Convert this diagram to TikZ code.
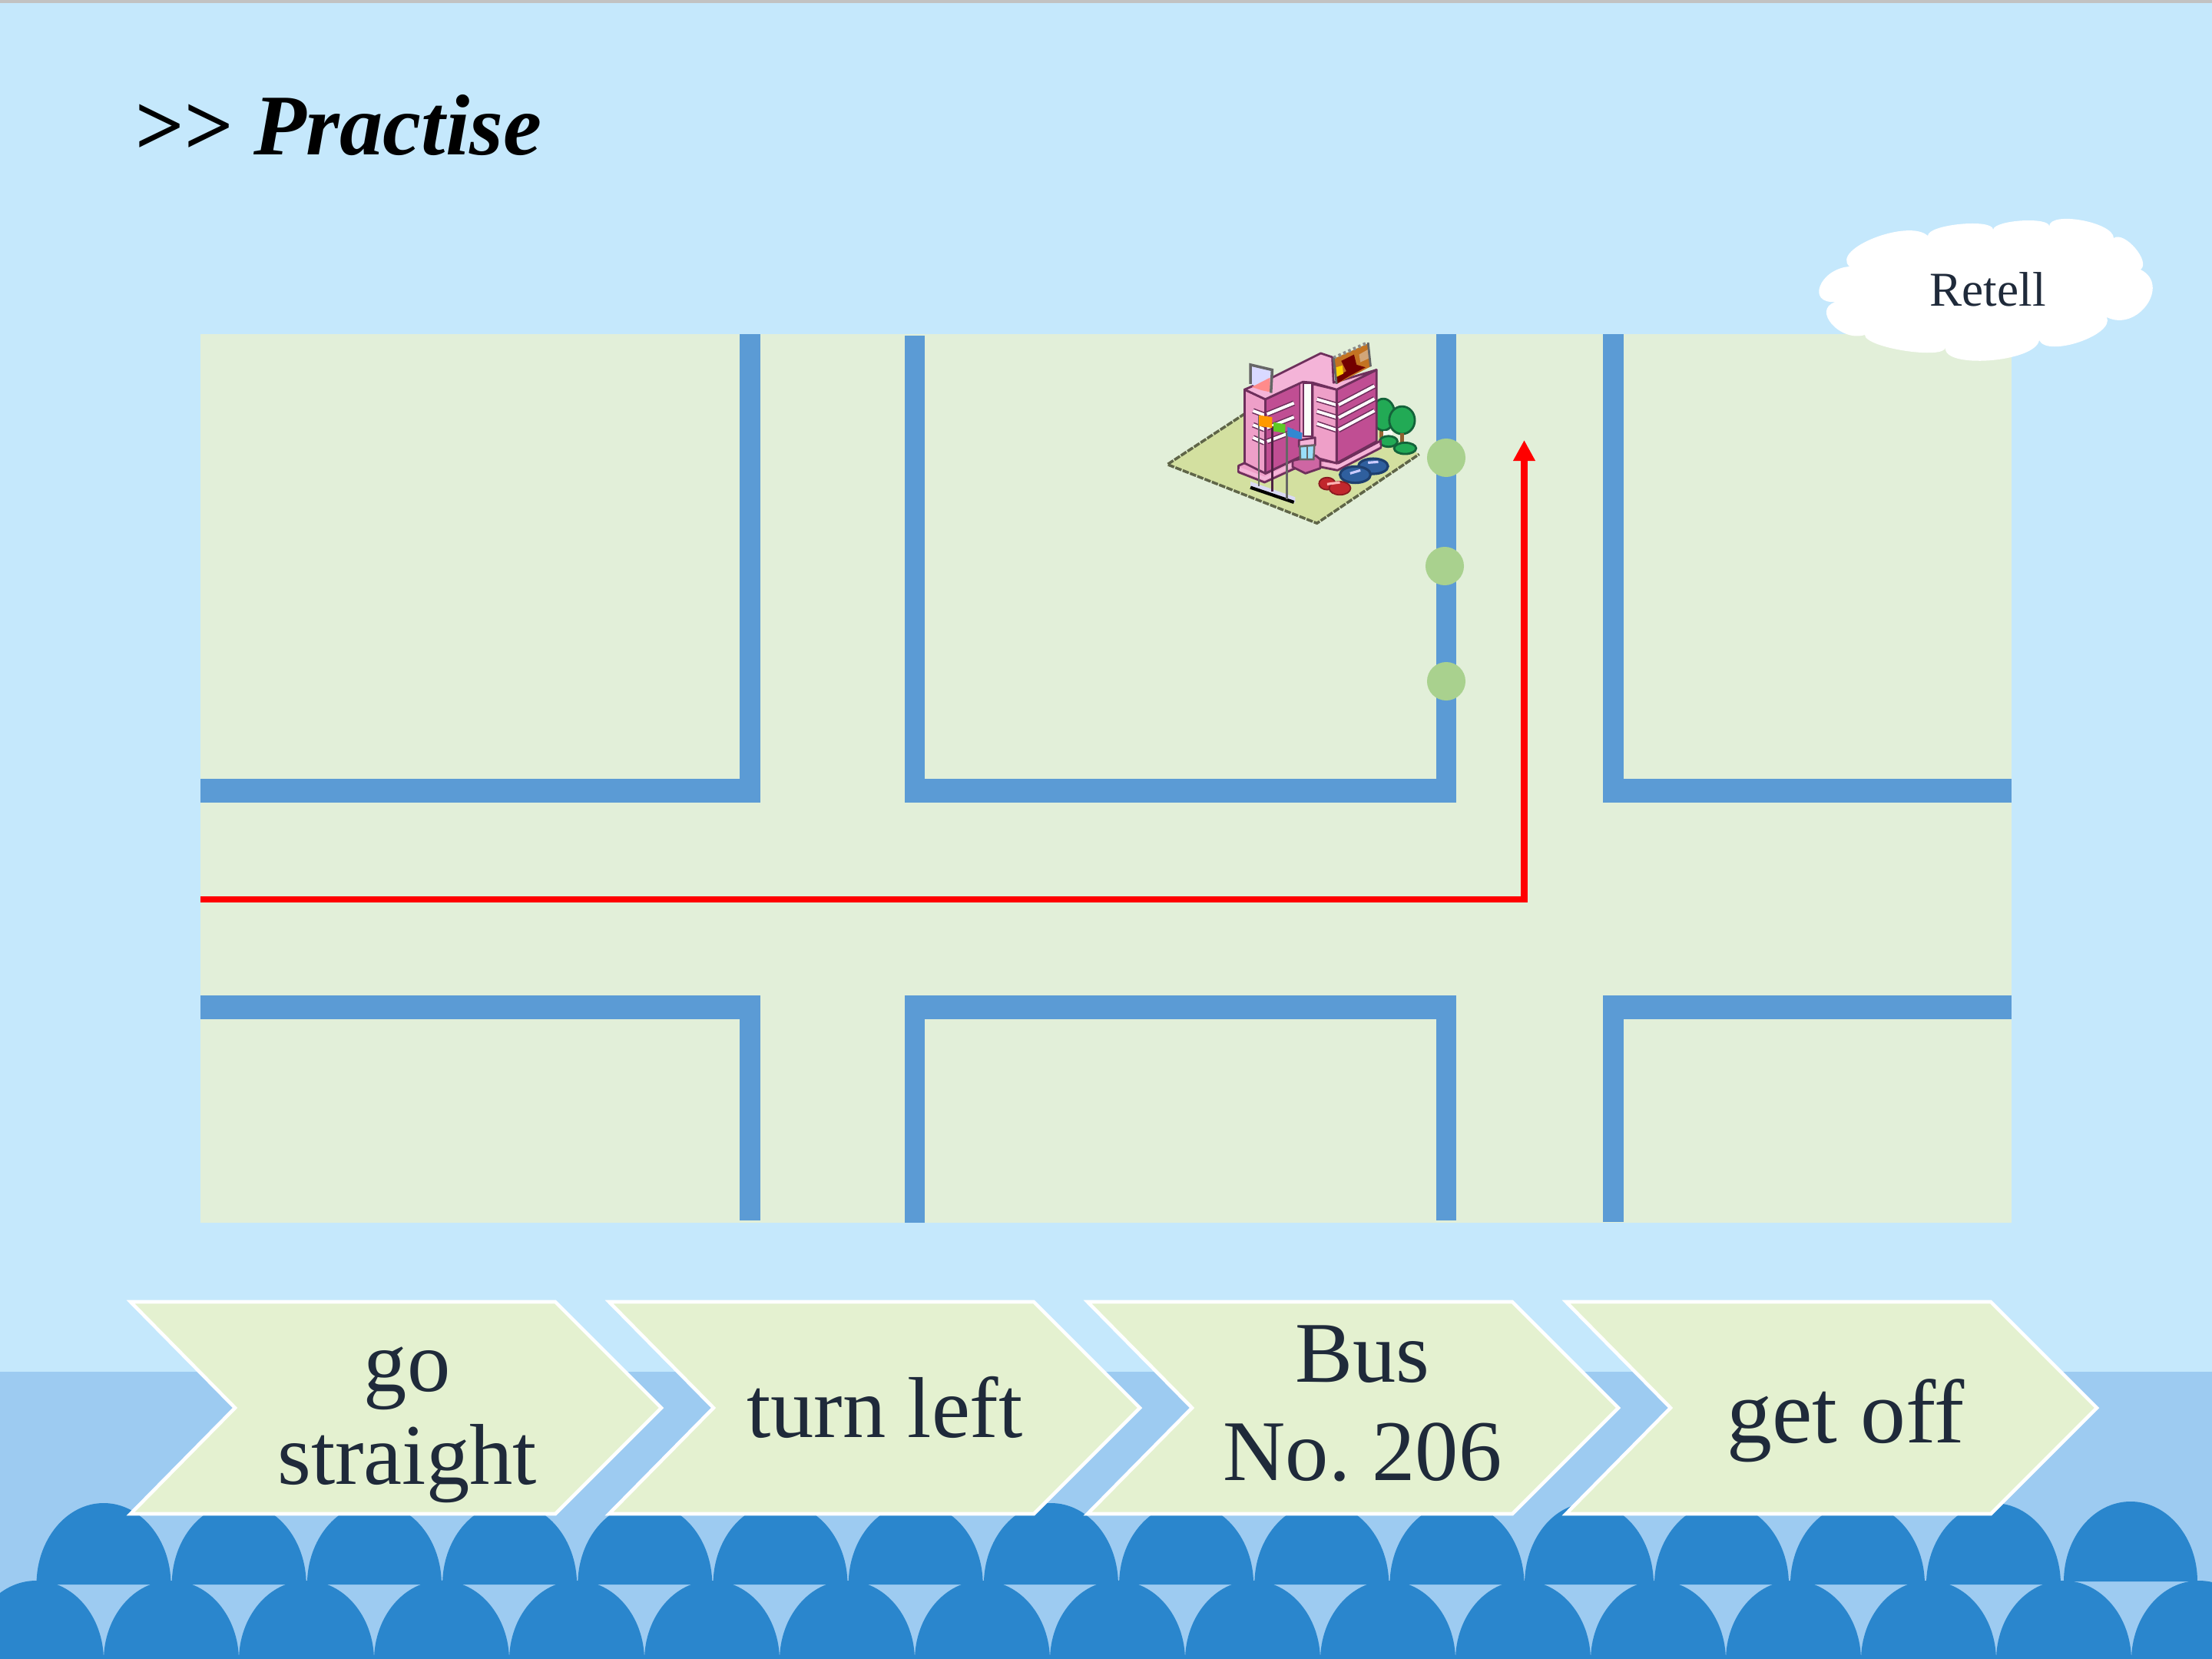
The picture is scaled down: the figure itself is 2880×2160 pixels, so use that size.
\documentclass[tikz,border=0pt]{standalone}
\usepackage{fontspec}
\setmainfont{Liberation Serif}
\usetikzlibrary{arrows.meta,calc}
\definecolor{sky}{HTML}{C5E8FC}
\definecolor{sea}{HTML}{9DCBF1}
\definecolor{wave}{HTML}{2A86CD}
\definecolor{land}{HTML}{E2EFD9}
\definecolor{wall}{HTML}{5B9BD5}
\definecolor{stop}{HTML}{A9D18E}
\definecolor{chev}{HTML}{E4F1D0}
\definecolor{ink}{HTML}{1F2A3A}
\definecolor{lawn}{HTML}{D3E0A0}
\definecolor{pinklight}{HTML}{EE9FC8}
\definecolor{pinkdark}{HTML}{C04E93}
\definecolor{pinkroof}{HTML}{F4B4D8}
\definecolor{edgepurple}{HTML}{6E2F5C}
\definecolor{treegreen}{HTML}{22AA55}
\definecolor{treeedge}{HTML}{14633A}
\definecolor{carbody}{HTML}{2F5F9E}
\definecolor{caredge}{HTML}{1E3F6E}
\definecolor{redbody}{HTML}{C1272D}
\definecolor{rededge}{HTML}{8A1A1F}
\tikzset{
  wallfill/.style={fill=wall,draw=none},
  stopdot/.style={circle,fill=stop,draw=none,minimum size=0.5cm,inner sep=0pt},
  chevron/.style={fill=chev,draw=white,line width=1.3pt,miter limit=10},
  biglabel/.style={text=ink,inner sep=0pt,align=center},
  route/.style={draw=red,line width=2.5pt,-{Triangle[length=0.27cm,width=0.27cm]}},
  stripe/.style={line width=2pt,draw=edgepurple},
  stripein/.style={line width=1.1pt,draw=white},
  bldedge/.style={draw=edgepurple,line width=0.8pt,line join=round},
  plantedge/.style={draw=treeedge,line width=0.8pt,fill=treegreen},
  carblue/.style={fill=carbody,draw=caredge,line width=0.9pt},
  carred/.style={fill=redbody,draw=rededge,line width=0.5pt},
}
\newcommand{\archfill}[4]{% centre, half width, base, height
  \fill[wave] ({#1-#2},#3) .. controls ({#1-#2},{#3-0.5523*#4}) and ({#1-0.5523*#2},{#3-#4}) .. ({#1},{#3-#4})
    .. controls ({#1+0.5523*#2},{#3-#4}) and ({#1+#2},{#3-0.5523*#4}) .. ({#1+#2},#3) -- cycle;}
\newcommand{\stripeline}[4]{%
  \draw[stripe] (#1,#2) -- (#3,#4);
  \draw[stripein] (#1,#2) -- (#3,#4);}
\begin{document}
\begin{tikzpicture}[x=0.01cm,y=-0.01cm]
\useasboundingbox (0,0) rectangle (2880,2160);
% backdrop
\fill[sky] (0,0) rectangle (2880,2160);
\fill[sea] (0,1786) rectangle (2880,2160);
\fill[black!24] (0,0) rectangle (2880,4);
% two rows of waves
\foreach \c in {47,223,399,575,751,927,1103,1279,1455,1631,1807,1983,2159,2335,2511,2687,2863}
  {\archfill{\c}{88}{2162}{104}}
\foreach \c in {135,311.2,487.4,663.6,839.8,1016,1192.2,1368.4,1544.6,1720.8,1897}
  {\archfill{\c}{87.5}{2063}{106}}
\archfill{2069}{84}{2063}{106}
\foreach \c in {2241.5,2418.5,2595.5}
  {\archfill{\c}{87.5}{2063}{106}}
\archfill{2774}{87}{2059}{104}
% street map
\fill[land] (261,435) rectangle (2619,1592);
\fill[wallfill] (261,1014) rectangle (963,1045);
\fill[wallfill] (963,435) rectangle (990,1045);
\fill[wallfill] (1178,437) rectangle (1204,1045);
\fill[wallfill] (1204,1014) rectangle (1896,1045);
\fill[wallfill] (1870,435) rectangle (1896,1045);
\fill[wallfill] (2087,435) rectangle (2114,1045);
\fill[wallfill] (2087,1014) rectangle (2619,1045);
\fill[wallfill] (261,1296) rectangle (990,1327);
\fill[wallfill] (963,1296) rectangle (990,1589);
\fill[wallfill] (1178,1296) rectangle (1204,1592);
\fill[wallfill] (1178,1296) rectangle (1896,1327);
\fill[wallfill] (1870,1296) rectangle (1896,1589);
\fill[wallfill] (2087,1296) rectangle (2114,1591);
\fill[wallfill] (2087,1296) rectangle (2619,1327);
% bus stops
\node[stopdot] (stopa) at (1883,596) {};
\node[stopdot] (stopb) at (1881,737) {};
\node[stopdot] (stopc) at (1883,887) {};
% route
\coordinate (routestart) at (261,1171);
\coordinate (routebend) at (1984.5,1171);
\coordinate (routeend) at (1984.5,573);
\draw[route] (routestart) -- (routebend) -- (routeend);
% shopping centre on its plot
\begin{scope}[shift={(1480,420)},x=0.003333cm,y=-0.003333cm]
  \fill[lawn] (120,555) -- (425,355) -- (640,210) -- (1105,515) -- (705,785) -- cycle;
  \draw[black!55!lawn,line width=1pt,dash pattern=on 2.4pt off 0.5pt] (425,355) -- (120,555) -- (705,785) -- (1105,515);
  % trees
  \fill[brown!80!black] (950,405) rectangle (970,450);
  \filldraw[plantedge] (965,360) circle[x radius=45,y radius=62];
  \filldraw[plantedge] (1038,382) circle[x radius=50,y radius=54];
  \fill[white!70!land] (965,425) rectangle (1000,445);
  \fill[brown!75!black] (1030,432) rectangle (1046,470);
  \filldraw[plantedge] (985,465) circle[x radius=35,y radius=21];
  \filldraw[plantedge] (1050,492) circle[x radius=43,y radius=22];
  % plinth
  \filldraw[fill=pinklight,bldedge] (398,560) -- (425,548) -- (505,590) -- (640,525) -- (790,550) -- (955,462) -- (955,490) -- (785,578) -- (720,565) -- (620,570) -- (500,625) -- (398,585) -- cycle;
  \draw[pinkroof,line width=1.2pt] (402,572) -- (500,610) -- (620,552);
  \draw[pinkroof,line width=1.2pt] (730,552) -- (785,565) -- (950,478);
  % walls
  \filldraw[fill=pinklight,bldedge] (422,262) -- (503,300) -- (503,590) -- (422,550) -- cycle;
  \filldraw[fill=pinkdark,bldedge] (503,300) -- (640,235) -- (640,525) -- (503,590) -- cycle;
  \filldraw[fill=white!85!land,bldedge] (650,235) -- (685,235) -- (685,445) -- (650,445) -- cycle;
  \filldraw[fill=pinklight,bldedge] (688,240) -- (782,262) -- (782,550) -- (688,525) -- cycle;
  \filldraw[fill=pinkdark,bldedge] (782,262) -- (938,185) -- (938,465) -- (782,550) -- cycle;
  \fill[pinklight] (640,235) rectangle (650,525);
  \fill[pinklight] (650,448) rectangle (688,530);
  % roof
  \filldraw[fill=pinkroof,bldedge] (422,262) -- (530,215) -- (720,120) -- (765,135) -- (770,235) -- (938,185) -- (782,262) -- (688,235) -- (650,232) -- (503,300) -- cycle;
  % billboard
  \fill[brown!60!orange!90!black] (770,142) -- (905,82) -- (915,172) -- (782,240) -- cycle;
  \fill[red!45!black] (800,150) -- (850,125) -- (860,165) -- (895,175) -- (830,210) -- (782,240) -- (780,215) -- (820,190) -- cycle;
  \fill[yellow!70!orange] (780,175) -- (805,168) -- (808,200) -- (782,212) -- cycle;
  \fill[brown!70!white] (870,125) -- (905,105) -- (908,140) -- (875,155) -- cycle;
  \draw[black!45,line width=1.2pt,dash pattern=on 1pt off 1pt] (770,138) -- (905,78);
  \draw[black!60,line width=0.8pt] (770,138) -- (782,240);
  \draw[black!60,line width=0.8pt] (905,78) -- (915,172);
  % rooftop sign
  \fill[white!85!blue] (445,165) -- (530,185) -- (525,275) -- (445,240) -- cycle;
  \fill[pink!40!red!65!white] (450,252) -- (522,215) -- (522,272) -- (490,265) -- cycle;
  \draw[black!60,line width=1pt] (445,240) -- (445,165) -- (530,185) -- (525,275);
  % window bands
  \stripeline{455}{345}{500}{362}
  \stripeline{455}{400}{500}{418}
  \stripeline{455}{450}{500}{470}
  \stripeline{510}{358}{615}{315}
  \stripeline{510}{412}{615}{370}
  \stripeline{510}{465}{615}{425}
  \stripeline{705}{300}{780}{322}
  \stripeline{705}{347}{780}{370}
  \stripeline{705}{395}{780}{420}
  \stripeline{790}{322}{930}{248}
  \stripeline{790}{372}{930}{298}
  \stripeline{790}{420}{930}{345}
  \draw[edgepurple,line width=1pt] (782,262) -- (782,550);
  \draw[edgepurple,line width=1pt] (503,300) -- (503,590);
  % entrance
  \filldraw[fill=pinkdark!70!pinklight,bldedge] (610,540) -- (700,520) -- (718,535) -- (718,570) -- (660,590) -- (610,565) -- cycle;
  \filldraw[fill=pinkroof,bldedge] (635,460) -- (698,450) -- (698,480) -- (635,485) -- cycle;
  \filldraw[fill=cyan!40!white,draw=black!60,line width=0.7pt] (638,485) -- (695,480) -- (692,535) -- (640,535) -- cycle;
  \draw[black!60,line width=0.5pt] (666,483) -- (666,535);
  % flags and their stand
  \fill[black!30!blue!15!white] (445,622) -- (620,683) -- (620,705) -- (445,645) -- cycle;
  \draw[black,line width=1.2pt] (445,645) -- (615,703);
  \draw[black!60,line width=0.7pt] (478,365) -- (478,640);
  \draw[edgepurple!70!black,line width=0.8pt] (530,405) -- (530,660);
  \draw[black!60,line width=0.7pt] (588,430) -- (588,690);
  \fill[orange!80!yellow] (478,362) -- (530,370) -- (530,412) -- (478,405) -- cycle;
  \fill[green!50!olive!85!white] (535,390) -- (582,398) -- (580,432) -- (535,425) -- cycle;
  \fill[cyan!60!blue!85!white] (590,408) -- (648,432) -- (645,458) -- (590,445) -- cycle;
  % parked cars
  \filldraw[carblue] (925,562) circle[x radius=58,y radius=30];
  \filldraw[carblue] (855,595) circle[x radius=60,y radius=32];
  \draw[white!80!blue,line width=0.9pt] (835,590) -- (875,578);
  \draw[white!80!blue,line width=0.9pt] (905,548) -- (945,545);
  \filldraw[carred] (745,630) circle[x radius=32,y radius=24];
  \filldraw[carred] (795,648) circle[x radius=42,y radius=26];
  \draw[white!70!red,line width=0.9pt] (745,632) -- (795,625);
\end{scope}
% steps along the bottom
\foreach \x in {167,790,1413,2036}
  \draw[chevron] (\x+3,1695) -- (\x+556,1695) -- (\x+694,1833) -- (\x+556,1971) -- (\x+3,1971) -- (\x+139,1833) -- cycle;
\node[biglabel,anchor=center,font=\fontsize{32}{34.4}\selectfont] (stepa) at (530,1855) {go\\straight};
\node[biglabel,anchor=base,font=\fontsize{32}{34.4}\selectfont] (stepb) at (1152,1871) {turn left};
\node[biglabel,anchor=center,font=\fontsize{32}{36.4}\selectfont] (stepc) at (1774,1827) {Bus\\No.\ 206};
\node[biglabel,anchor=base,font=\fontsize{33.5}{36}\selectfont] (stepd) at (2403,1878) {get off};
% title
\node[anchor=base west,inner sep=0pt,font=\fontsize{32}{36}\selectfont\bfseries\itshape] (title) at (173,201) {{>}{>} Practise};
% cloud with its caption
\fill[white] (2408,347)
  .. controls (2383,324) and (2485,284) .. (2510,307)
  .. controls (2510,292) and (2595,284) .. (2595,299)
  .. controls (2597,286) and (2670,282) .. (2668,295)
  .. controls (2668,274) and (2752,289) .. (2752,310)
  .. controls (2766,300) and (2801,341) .. (2787,351)
  .. controls (2827,371) and (2783,433) .. (2743,413)
  .. controls (2754,436) and (2666,466) .. (2655,443)
  .. controls (2650,472) and (2528,481) .. (2533,452)
  .. controls (2533,469) and (2428,453) .. (2428,436)
  .. controls (2396,446) and (2358,403) .. (2390,393)
  .. controls (2351,396) and (2369,350) .. (2408,347) -- cycle;
\node[anchor=base,inner sep=0pt,text=ink,font=\fontsize{18}{20}\selectfont] (retell) at (2588,398) {Retell};
\end{tikzpicture}
\end{document}
